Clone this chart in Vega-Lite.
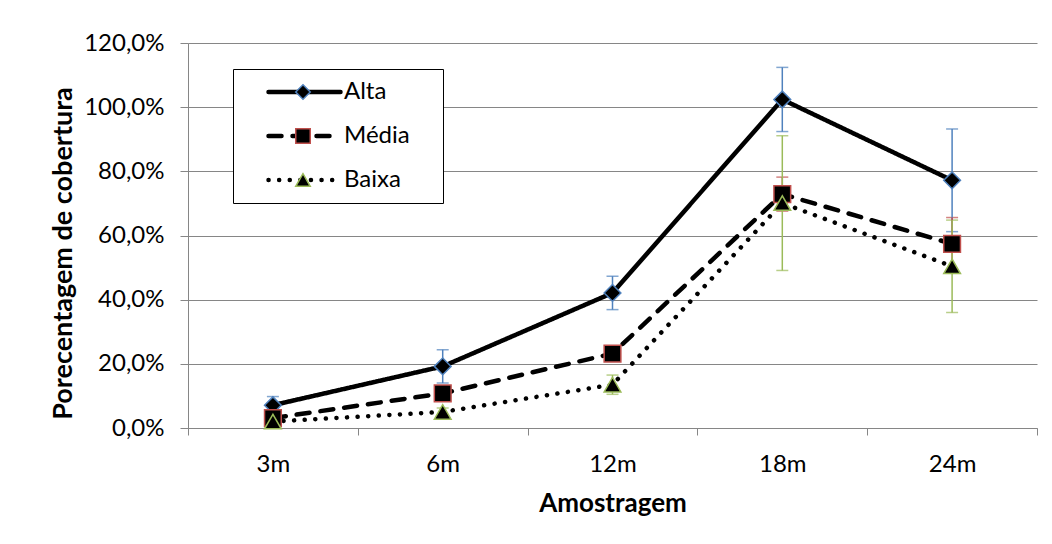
{
  "$schema": "https://vega.github.io/schema/vega-lite/v6.json",
  "width": 849,
  "height": 385,
  "autosize": {"type": "none"},
  "padding": {"left": 188, "top": 43, "right": 15, "bottom": 116},
  "background": "white",
  "config": {
    "locale": {"number": {"decimal": ",", "thousands": ".", "grouping": [3], "currency": ["R$", ""]}},
    "view": {"stroke": null},
    "font": "Lato",
    "axis": {
      "domainColor": "#868686",
      "tickColor": "#868686",
      "gridColor": "#868686",
      "domainWidth": 1,
      "tickWidth": 1,
      "gridWidth": 1,
      "labelFont": "Lato",
      "labelFontSize": 24,
      "labelColor": "#000000",
      "titleFont": "Lato",
      "titleFontSize": 26,
      "titleFontWeight": "bold",
      "titleColor": "#000000"
    }
  },
  "data": {
    "values": [
      {"serie": "Alta", "amostra": "3m", "valor": 0.071, "erro": 0.027},
      {"serie": "Alta", "amostra": "6m", "valor": 0.192, "erro": 0.052},
      {"serie": "Alta", "amostra": "12m", "valor": 0.421, "erro": 0.052},
      {"serie": "Alta", "amostra": "18m", "valor": 1.024, "erro": 0.100},
      {"serie": "Alta", "amostra": "24m", "valor": 0.772, "erro": 0.160},
      {"serie": "Média", "amostra": "3m", "valor": 0.031, "erro": 0.012},
      {"serie": "Média", "amostra": "6m", "valor": 0.108, "erro": 0.015},
      {"serie": "Média", "amostra": "12m", "valor": 0.232, "erro": 0.015},
      {"serie": "Média", "amostra": "18m", "valor": 0.729, "erro": 0.053},
      {"serie": "Média", "amostra": "24m", "valor": 0.574, "erro": 0.082},
      {"serie": "Baixa", "amostra": "3m", "valor": 0.020, "erro": 0.008},
      {"serie": "Baixa", "amostra": "6m", "valor": 0.050, "erro": 0.012},
      {"serie": "Baixa", "amostra": "12m", "valor": 0.135, "erro": 0.030},
      {"serie": "Baixa", "amostra": "18m", "valor": 0.701, "erro": 0.210},
      {"serie": "Baixa", "amostra": "24m", "valor": 0.504, "erro": 0.144}
    ]
  },
  "encoding": {
    "x": {
      "field": "amostra",
      "type": "nominal",
      "sort": ["3m", "6m", "12m", "18m", "24m"],
      "scale": {"type": "band", "paddingInner": 0, "paddingOuter": 0},
      "axis": {
        "title": "Amostragem",
        "labelAngle": 0,
        "tickBand": "extent",
        "tickSize": 7,
        "labelPadding": 17,
        "grid": false,
        "titleY": 75,
        "titleBaseline": "middle"
      }
    },
    "y": {
      "field": "valor",
      "type": "quantitative",
      "scale": {"domain": [0, 1.2], "nice": false, "zero": true},
      "axis": {
        "title": "Porecentagem de cobertura",
        "titleFontSize": 27,
        "format": ".1%",
        "values": [0, 0.2, 0.4, 0.6, 0.8, 1.0, 1.2],
        "tickSize": 8,
        "labelPadding": 16,
        "labelBaseline": "middle",
        "grid": true,
        "titleAngle": -90,
        "titleX": -125,
        "titleY": 210,
        "titleBaseline": "middle"
      }
    }
  },
  "layer": [
    {
      "mark": {"type": "errorbar", "ticks": true, "size": 12, "thickness": 1.5},
      "encoding": {
        "yError": {"field": "erro"},
        "color": {
          "field": "serie",
          "type": "nominal",
          "scale": {"domain": ["Média", "Alta", "Baixa"], "range": ["#C0504D", "#4F81BD", "#9BBB59"]},
          "legend": null
        }
      }
    },
    {
      "mark": {"type": "line", "color": "black", "strokeWidth": 4.5, "strokeCap": "round"},
      "encoding": {
        "strokeDash": {
          "field": "serie",
          "type": "nominal",
          "scale": {"domain": ["Alta", "Média", "Baixa"], "range": [[1, 0], [13, 11], [0.1, 10.5]]},
          "legend": {
            "orient": "none",
            "legendX": 45,
            "legendY": 26,
            "title": " ",
            "titleOrient": "right",
            "titleFontSize": 24,
            "titlePadding": 23,
            "symbolType": "stroke",
            "symbolSize": 5184,
            "symbolStrokeWidth": 4.5,
            "symbolStrokeColor": "black",
            "strokeColor": "black",
            "fillColor": "white",
            "padding": 10,
            "symbolOffset": 23,
            "labelOffset": 1,
            "clipHeight": 26,
            "rowPadding": 18,
            "labelFont": "Lato",
            "labelFontSize": 24,
            "labelColor": "#000000",
            "zindex": 0,
            "encode": {"symbols": {"update": {"strokeCap": {"value": "round"}}}}
          }
        }
      }
    },
    {
      "mark": {"type": "point", "filled": true, "fill": "black", "strokeWidth": 1.5, "size": 280, "opacity": 1},
      "encoding": {
        "shape": {
          "field": "serie",
          "type": "nominal",
          "scale": {"range": ["diamond", "triangle-up", "square"]},
          "legend": {
            "orient": "none",
            "legendX": 103,
            "legendY": 36,
            "title": null,
            "values": ["Alta", "Média", "Baixa"],
            "labelExpr": "''",
            "padding": 0,
            "clipHeight": 26,
            "rowPadding": 18,
            "symbolSize": 210,
            "symbolStrokeWidth": 1.5,
            "symbolFillColor": "black",
            "labelFontSize": 24,
            "zindex": 1
          }
        },
        "stroke": {
          "field": "serie",
          "type": "nominal",
          "scale": {"range": ["#4F81BD", "#9BBB59", "#C0504D"]},
          "legend": {
            "orient": "none",
            "legendX": 103,
            "legendY": 36,
            "title": null,
            "values": ["Alta", "Média", "Baixa"],
            "labelExpr": "''",
            "padding": 0,
            "clipHeight": 26,
            "rowPadding": 18,
            "symbolSize": 210,
            "symbolStrokeWidth": 1.5,
            "symbolFillColor": "black",
            "labelFontSize": 24,
            "zindex": 1
          }
        }
      }
    }
  ]
}
